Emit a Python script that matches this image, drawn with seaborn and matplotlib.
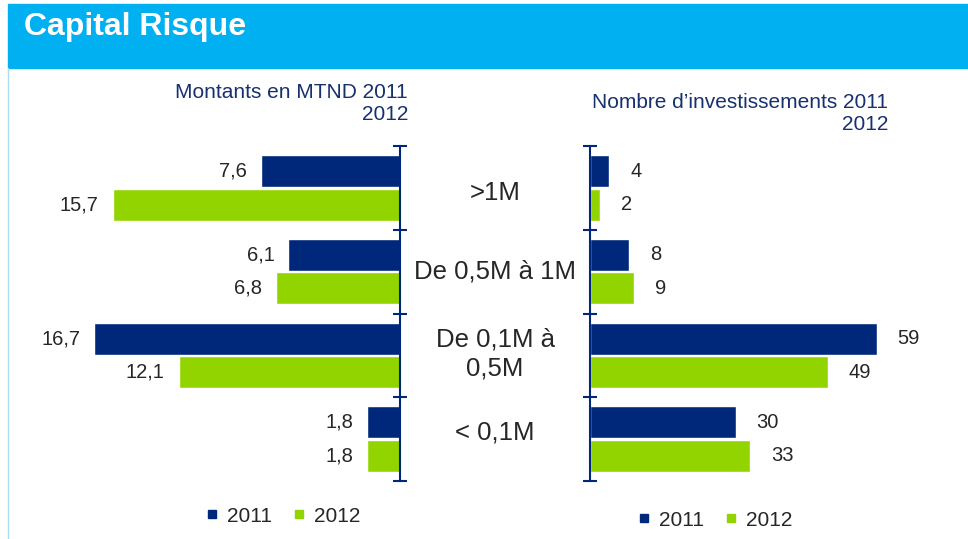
import matplotlib
matplotlib.use("Agg")
import matplotlib.pyplot as plt
import matplotlib.transforms as mtransforms
from matplotlib.lines import Line2D
from matplotlib.patches import Rectangle
import pandas as pd
import seaborn as sns

# data
categories = [">1M", "De 0,5M à 1M", "De 0,1M à\n0,5M", "< 0,1M"]
years = ["2011", "2012"]
montants_2011 = [7.6, 6.1, 16.7, 1.8]
montants_2012 = [15.7, 6.8, 12.1, 1.8]
nombre_2011 = [4, 8, 59, 30]
nombre_2012 = [2, 9, 49, 33]

NAVY = "#00287A"
GREEN = "#92D400"
TITLE_BLUE = "#00B0F0"
TEXT_NAVY = "#17306E"

sns.set_style("white")
plt.rcParams["font.family"] = ["Liberation Sans", "DejaVu Sans"]

W, H = 968, 539
fig = plt.figure(figsize=(W / 100, H / 100), dpi=100)


def px_axes(x0, y0, x1, y1):
    # pixel box (top-left origin) -> figure axes
    return fig.add_axes([x0 / W, 1 - y1 / H, (x1 - x0) / W, (y1 - y0) / H])


def long_df(v2011, v2012):
    df = pd.DataFrame({"Categorie": categories, "2011": v2011, "2012": v2012})
    return df.melt(id_vars="Categorie", var_name="Annee", value_name="Valeur")


def fr(v):
    return f"{v:.1f}".replace(".", ",")


# title bar
fig.patches.append(Rectangle((8 / W, 1 - 68 / H), 1 - 8 / W, 64 / H,
                             transform=fig.transFigure, color=TITLE_BLUE, zorder=0))
fig.add_artist(Line2D([8 / W, 8 / W], [0, 1 - 68 / H], transform=fig.transFigure,
                      color="#A8DDF5", lw=1))
fig.text(24 / W, 1 - 27 / H, "Capital Risque", color="white", fontsize=23,
         fontweight="bold", va="center", ha="left")

palette = {"2011": NAVY, "2012": GREEN}

# left panel: montants
ax_l = px_axes(400 - 18 * 18.3, 146, 400, 481)
sns.barplot(data=long_df(montants_2011, montants_2012), y="Categorie", x="Valeur",
            hue="Annee", orient="h", palette=palette, width=0.8, gap=0.05,
            saturation=1, ax=ax_l, legend=False)
ax_l.set_xlim(18, 0)
for cont, vals in zip(ax_l.containers, [montants_2011, montants_2012]):
    ax_l.bar_label(cont, labels=[fr(v) for v in vals], padding=10, fontsize=14.5)

# right panel: nombre
ax_r = px_axes(590, 146, 590 + 62 * 4.86, 481)
sns.barplot(data=long_df(nombre_2011, nombre_2012), y="Categorie", x="Valeur",
            hue="Annee", orient="h", palette=palette, width=0.8, gap=0.05,
            saturation=1, ax=ax_r, legend=False)
ax_r.set_xlim(0, 62)
for cont, vals in zip(ax_r.containers, [nombre_2011, nombre_2012]):
    ax_r.bar_label(cont, labels=[str(v) for v in vals], padding=15, fontsize=14.5)

bounds = [i - 0.5 for i in range(len(categories) + 1)]
for ax, side in [(ax_l, "right"), (ax_r, "left")]:
    ax.set_ylim(len(categories) - 0.5, -0.5)
    for s in ["top", "bottom", "left", "right"]:
        ax.spines[s].set_visible(s == side)
    ax.spines[side].set_color(NAVY)
    ax.spines[side].set_linewidth(1.5)
    ax.set_yticks(bounds)
    ax.set_yticklabels([])
    ax.tick_params(axis="y", direction="inout", length=10, width=1.5, color=NAVY,
                   left=(side == "left"), right=(side == "right"))
    ax.set_xticks([])
    ax.set_xlabel("")
    ax.set_ylabel("")
    ax.patch.set_alpha(0)

# category labels between the panels (small vertical nudges as in the original)
label_nudge = [0.06, 0.0, -0.02, -0.08]
trans = mtransforms.blended_transform_factory(fig.transFigure, ax_l.transData)
for i, cat in enumerate(categories):
    fig.text(495 / W, i + label_nudge[i], cat, transform=trans, ha="center",
             va="center", fontsize=18.5, linespacing=1.25)

# panel titles
fig.text(408 / W, 1 - 103 / H, "Montants en MTND 2011\n2012", ha="right",
         va="center", fontsize=15, color=TEXT_NAVY, linespacing=1.2)
fig.text(888 / W, 1 - 113 / H, "Nombre d\u2019investissements 2011\n2012", ha="right",
         va="center", fontsize=15, color=TEXT_NAVY, linespacing=1.2)

# legends
handles = [Line2D([], [], marker="s", ls="", color=palette[y], markersize=5.5) for y in years]
for cx, cy in [(283, 516), (715, 520)]:
    fig.legend(handles, years, loc="center", bbox_to_anchor=(cx / W, 1 - cy / H),
               ncol=2, frameon=False, fontsize=15, handlelength=0.6,
               handletextpad=0.4, columnspacing=1.0)

fig.savefig("out.png", dpi=100)
